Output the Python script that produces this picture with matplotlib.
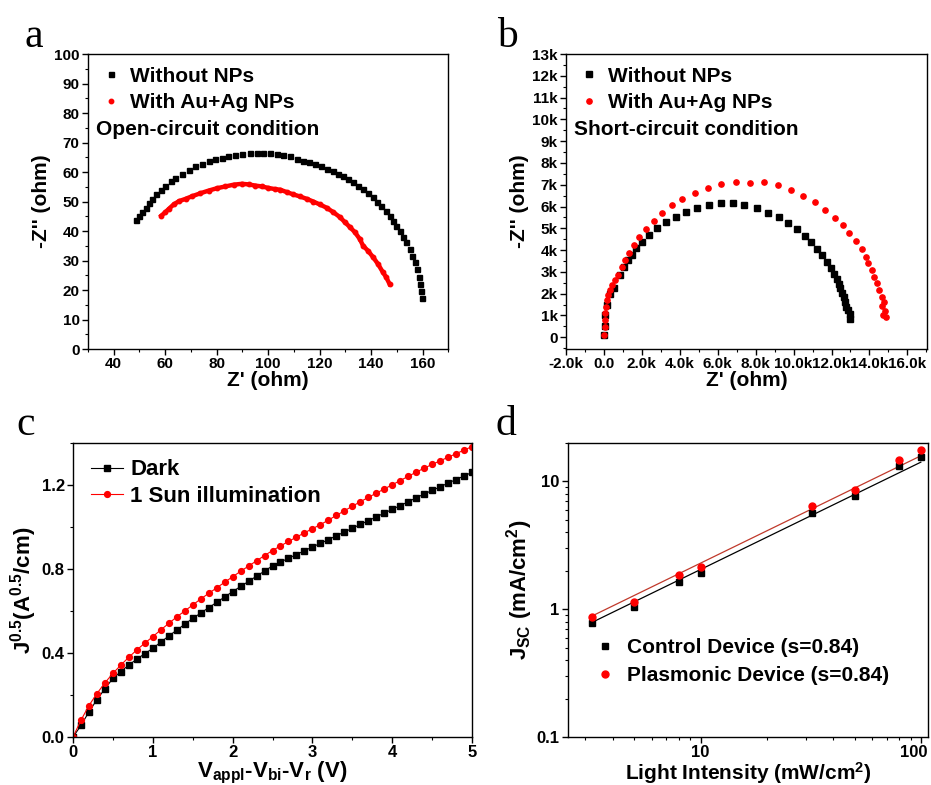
import matplotlib
matplotlib.use('Agg')
import matplotlib.pyplot as plt
import matplotlib.transforms as mtransforms
import numpy as np
from matplotlib.ticker import MultipleLocator, FuncFormatter, LogLocator, NullFormatter, FixedLocator

plt.rcParams['font.family'] = ['Liberation Sans', 'DejaVu Sans']
plt.rcParams['font.weight'] = 'bold'
plt.rcParams['axes.labelweight'] = 'bold'
plt.rcParams['mathtext.fontset'] = 'custom'
plt.rcParams['mathtext.rm'] = 'Liberation Sans:bold'
plt.rcParams['mathtext.it'] = 'Liberation Sans:bold'
plt.rcParams['mathtext.bf'] = 'Liberation Sans:bold'
plt.rcParams['axes.linewidth'] = 1.0

# ---------------- Panel a data (ohm) ----------------
a_black_x = [48.5, 49.8, 51.1, 52.4, 53.7, 55.0, 56.5, 58.2, 59.9, 62.1, 64.0, 66.6, 69.2, 71.7,
             74.3, 76.9, 79.5, 82.1, 84.6, 87.2, 89.8, 93.0, 95.6, 98.2, 100.8, 103.4, 105.9,
             108.5, 111.1, 113.4, 116.0, 118.2, 120.4, 122.7, 125.1, 127.2, 129.2, 131.1, 133.0,
             135.0, 136.9, 138.8, 140.8, 142.3, 144.0, 145.7, 147.2, 148.5, 149.8, 151.1, 152.4,
             153.7, 155.0, 156.0, 156.9, 157.8, 158.6, 159.1, 159.5, 159.8]
a_black_y = [43.8, 45.2, 46.6, 47.8, 49.4, 50.9, 52.4, 54.0, 55.3, 56.8, 57.9, 59.4, 60.8, 61.9,
             62.8, 63.6, 64.3, 64.9, 65.4, 65.9, 66.2, 66.4, 66.3, 66.4, 66.3, 66.1, 65.9,
             65.3, 64.5, 63.9, 63.4, 62.8, 62.1, 61.1, 60.3, 59.4, 58.5, 57.6, 56.6,
             55.4, 54.3, 52.8, 51.5, 50.0, 48.6, 46.9, 45.2, 43.5, 41.8, 40.1, 38.1,
             36.2, 33.9, 31.6, 29.4, 27.1, 24.3, 22.0, 19.7, 17.4]
a_red_x = [58.5, 60.1, 61.4, 63.3, 65.3, 67.9, 70.5, 73.7, 76.9, 80.1, 83.4, 86.6, 89.8, 92.4,
           95.0, 97.6, 100.1, 102.7, 104.7, 107.2, 109.8, 112.4, 115.0, 117.5, 120.1, 122.7,
           125.3, 127.9, 129.8, 131.8, 133.7, 135.6, 136.9, 138.8, 140.8, 142.7, 144.6, 145.9, 147.2]
a_red_y = [45.2, 46.4, 47.5, 49.0, 50.1, 50.9, 51.8, 52.8, 53.7, 54.5, 55.1, 55.7, 56.0, 55.8,
           55.4, 55.1, 54.6, 54.2, 54.0, 53.2, 52.4, 51.7, 50.9, 50.0, 49.0, 47.9,
           46.4, 44.7, 43.0, 41.3, 39.6, 37.3, 35.0, 33.3, 31.1, 28.8, 26.0, 24.3, 22.0]

# ---------------- Panel b data (kOhm) ----------------
b_black_x = [0.0, 0.03, 0.08, 0.15, 0.3, 0.52, 0.82, 1.05, 1.28, 1.46, 1.70, 2.02, 2.37, 2.81, 3.25,
             3.78, 4.35, 4.93, 5.55, 6.16, 6.81, 7.40, 8.09, 8.67, 9.25, 9.73, 10.17, 10.61,
             10.91, 11.23, 11.49, 11.76, 11.97, 12.11, 12.29, 12.37, 12.46, 12.55, 12.64,
             12.73, 12.78, 12.85, 12.96, 12.96]
b_black_y = [0.1, 0.5, 1.0, 1.5, 2.0, 2.25, 2.86, 3.24, 3.55, 3.78, 4.09, 4.39, 4.70, 5.01, 5.31,
             5.54, 5.77, 5.95, 6.09, 6.15, 6.15, 6.05, 5.92, 5.72, 5.54, 5.26, 4.99, 4.65,
             4.39, 4.06, 3.78, 3.44, 3.17, 2.91, 2.66, 2.45, 2.25, 2.05, 1.86,
             1.64, 1.41, 1.25, 1.07, 0.83]
b_red_x = [-0.01, 0.03, 0.04, 0.08, 0.12, 0.17, 0.22, 0.31, 0.43, 0.57, 0.73, 0.93, 1.10, 1.31,
           1.58, 1.84, 2.20, 2.64, 3.08, 3.61, 4.14, 4.79, 5.48, 6.18, 6.96, 7.70, 8.44, 9.16,
           9.87, 10.52, 11.14, 11.68, 12.20, 12.60, 12.90, 13.29, 13.61, 13.82, 13.93, 14.14,
           14.22, 14.40, 14.49, 14.67, 14.75, 14.67, 14.81, 14.72, 14.88]
b_red_y = [0.11, 0.49, 0.79, 1.10, 1.41, 1.71, 1.94, 2.17, 2.40, 2.63, 2.86, 3.24, 3.55, 3.86,
           4.24, 4.59, 4.96, 5.34, 5.72, 6.05, 6.35, 6.63, 6.84, 7.03, 7.12, 7.10, 7.13, 7.00,
           6.77, 6.49, 6.20, 5.86, 5.48, 5.14, 4.80, 4.42, 4.04, 3.70, 3.40, 3.09,
           2.78, 2.48, 2.17, 1.87, 1.64, 1.44, 1.22, 1.02, 0.95]

# ---------------- Panel c data ----------------
c_v = [0.0, 0.1, 0.2, 0.3, 0.4, 0.5, 0.6, 0.7, 0.8, 0.9, 1.0, 1.1, 1.2, 1.3, 1.4, 1.5, 1.6, 1.7,
       1.8, 1.9, 2.0, 2.1, 2.2, 2.3, 2.4, 2.5, 2.6, 2.7, 2.8, 2.9, 3.0, 3.1, 3.2, 3.3, 3.4, 3.5,
       3.6, 3.7, 3.8, 3.9, 4.0, 4.1, 4.2, 4.3, 4.4, 4.5, 4.6, 4.7, 4.8, 4.9, 5.0]
c_dark = [0.0, 0.055, 0.12, 0.178, 0.23, 0.279, 0.312, 0.343, 0.371, 0.397, 0.422, 0.452, 0.481,
          0.509, 0.537, 0.565, 0.59, 0.616, 0.641, 0.667, 0.692, 0.717, 0.741, 0.766, 0.79,
          0.815, 0.833, 0.851, 0.869, 0.887, 0.905, 0.922, 0.94, 0.958, 0.976, 0.994, 1.012,
          1.03, 1.048, 1.066, 1.084, 1.102, 1.12, 1.139, 1.157, 1.174, 1.191, 1.209, 1.226,
          1.243, 1.26]
c_sun = [0.0, 0.08, 0.15, 0.207, 0.258, 0.303, 0.343, 0.38, 0.415, 0.447, 0.478, 0.51, 0.541,
         0.572, 0.60, 0.629, 0.657, 0.684, 0.71, 0.737, 0.763, 0.789, 0.814, 0.839, 0.864,
         0.888, 0.91, 0.931, 0.952, 0.972, 0.992, 1.011, 1.033, 1.055, 1.077, 1.099, 1.12,
         1.141, 1.161, 1.181, 1.201, 1.221, 1.241, 1.261, 1.28, 1.298, 1.315, 1.332, 1.349,
         1.366, 1.383]

# ---------------- Panel d data ----------------
d_intensity = [3.2, 5.0, 8.0, 10.0, 32.0, 50.0, 80.0, 100.0]
d_control = [0.78, 1.04, 1.63, 1.91, 5.67, 7.66, 13.1, 15.5]
d_plasmonic = [0.865, 1.13, 1.84, 2.15, 6.47, 8.6, 14.8, 17.5]
d_slope = 0.84

RED = '#ff0000'

fig = plt.figure(figsize=(9.31, 7.85), dpi=100)

def style(ax, ls):
    ax.tick_params(which='both', direction='out', top=False, right=False, labelsize=ls, pad=2)
    ax.tick_params(which='major', length=4, width=1)
    ax.tick_params(which='minor', length=2.5, width=0.8)
    for lab in ax.get_xticklabels() + ax.get_yticklabels():
        lab.set_fontweight('bold')

LEG_AB = dict(loc='upper left', bbox_to_anchor=(0.0, 1.0), frameon=False, fontsize=15,
              handlelength=1.0, handletextpad=0.4, labelspacing=0.38, borderaxespad=0.2)

# ---- a ----
axA = fig.add_axes([0.0945, 0.5554, 0.387, 0.3758])
axA.plot(a_black_x, a_black_y, 's', color='black', ms=3.6, mec='black', label='Without NPs')
axA.plot(a_red_x, a_red_y, '-', color=RED, lw=3.2)
axA.plot(a_red_x, a_red_y, 'o', color=RED, ms=3.2, label='With Au+Ag NPs')
axA.set_xlim(30, 170)
axA.set_ylim(0, 100)
axA.xaxis.set_major_locator(MultipleLocator(20))
axA.xaxis.set_major_formatter(FuncFormatter(lambda v, p: '%d' % v if v >= 40 else ''))
axA.xaxis.set_minor_locator(MultipleLocator(10))
axA.yaxis.set_major_locator(MultipleLocator(10))
axA.yaxis.set_minor_locator(MultipleLocator(5))
axA.set_xlabel("Z' (ohm)", fontsize=15, labelpad=0)
axA.set_ylabel("-Z'' (ohm)", fontsize=15, labelpad=2)
style(axA, 11)
axA.legend(**LEG_AB)
axA.text(0.022, 0.745, 'Open-circuit condition', transform=axA.transAxes, fontsize=15,
         fontweight='bold', va='center', ha='left')

# ---- b ----
axB = fig.add_axes([0.608, 0.5554, 0.388, 0.3758])
axB.plot(np.array(b_black_x) * 1000, np.array(b_black_y) * 1000, 's', color='black', ms=3.8,
         label='Without NPs')
axB.plot(np.array(b_red_x) * 1000, np.array(b_red_y) * 1000, 'o', color=RED, ms=3.8,
         label='With Au+Ag NPs')
axB.set_xlim(-2000, 17050)
axB.set_ylim(-540, 13000)
axB.xaxis.set_major_locator(MultipleLocator(2000))
axB.xaxis.set_minor_locator(MultipleLocator(1000))
axB.yaxis.set_major_locator(MultipleLocator(1000))
axB.yaxis.set_minor_locator(MultipleLocator(500))

def fmt_bx(v, p):
    if abs(v) < 1e-6:
        return '0.0'
    return '%.1fk' % (v / 1000.0)

def fmt_by(v, p):
    if abs(v) < 1e-6:
        return '0'
    return '%dk' % round(v / 1000.0)

axB.xaxis.set_major_formatter(FuncFormatter(fmt_bx))
axB.yaxis.set_major_formatter(FuncFormatter(fmt_by))
axB.set_xlabel("Z' (ohm)", fontsize=15, labelpad=0)
axB.set_ylabel("-Z'' (ohm)", fontsize=15, labelpad=2)
style(axB, 11)
axB.legend(**LEG_AB)
axB.text(0.022, 0.745, 'Short-circuit condition', transform=axB.transAxes, fontsize=15,
         fontweight='bold', va='center', ha='left')

# ---- c ----
axC = fig.add_axes([0.0784, 0.0611, 0.4286, 0.3746])
axC.plot(c_v, c_dark, '-s', color='black', lw=0.8, ms=4.2, label='Dark')
axC.plot(c_v, c_sun, '-o', color=RED, lw=0.8, ms=4.2, label='1 Sun illumination')
axC.set_xlim(0, 5)
axC.set_ylim(0, 1.4)
axC.xaxis.set_major_locator(MultipleLocator(1))
axC.xaxis.set_minor_locator(MultipleLocator(0.5))
axC.yaxis.set_major_locator(FixedLocator([0.0, 0.4, 0.8, 1.2]))
axC.yaxis.set_major_formatter(FuncFormatter(lambda v, p: '%.1f' % v))
axC.yaxis.set_minor_locator(MultipleLocator(0.2))
axC.set_xlabel(r'V$_{appl}$-V$_{bi}$-V$_r$ (V)', fontsize=16, labelpad=0)
axC.set_ylabel(r'J$^{0.5}$(A$^{0.5}$/cm)', fontsize=16, labelpad=2)
style(axC, 12)
axC.legend(loc='upper left', bbox_to_anchor=(0.0, 1.005), frameon=False, fontsize=16,
           handlelength=1.45, handletextpad=0.32, labelspacing=0.26, borderaxespad=0.4,
           borderpad=0.4)

# ---- d ----
axD = fig.add_axes([0.610, 0.0611, 0.387, 0.3746])
axD.set_xscale('log')
axD.set_yscale('log')
lx = np.log10(d_intensity)
xfit = np.array([min(d_intensity), max(d_intensity)])
for yvals, col in ((d_control, 'black'), (d_plasmonic, '#c0392b')):
    icpt = np.mean(np.log10(yvals) - d_slope * lx)
    axD.plot(xfit, 10 ** (icpt + d_slope * np.log10(xfit)), '-', color=col, lw=0.9)
axD.plot(d_intensity, d_control, 's', color='black', ms=5, label='Control Device (s=0.84)')
axD.plot(d_intensity, d_plasmonic, 'o', color=RED, ms=5, label='Plasmonic Device (s=0.84)')
axD.set_xlim(2.5, 108)
axD.set_ylim(0.1, 20)
axD.xaxis.set_major_locator(FixedLocator([10, 100]))
axD.xaxis.set_major_formatter(FuncFormatter(lambda v, p: '%d' % v))
axD.xaxis.set_minor_locator(LogLocator(base=10, subs=np.arange(2, 10)))
axD.xaxis.set_minor_formatter(NullFormatter())
axD.yaxis.set_major_locator(FixedLocator([0.1, 1, 10]))
axD.yaxis.set_major_formatter(FuncFormatter(lambda v, p: ('%g' % v)))
axD.yaxis.set_minor_locator(LogLocator(base=10, subs=np.arange(2, 10)))
axD.yaxis.set_minor_formatter(NullFormatter())
axD.set_xlabel(r'Light Intensity (mW/cm$^2$)', fontsize=15, labelpad=0)
axD.set_ylabel(r'J$_{SC}$ (mA/cm$^2$)', fontsize=16, labelpad=1)
style(axD, 12)
# keep the last x tick label ("100") inside the figure edge
fig.canvas.draw()
_xl = axD.xaxis.get_majorticklabels()
if len(_xl) > 1:
    _xl[-1].set_transform(_xl[-1].get_transform() +
                          mtransforms.ScaledTranslation(-7 / 100.0, 0, fig.dpi_scale_trans))
axD.legend(loc='upper left', bbox_to_anchor=(0.074, 0.337), frameon=False, fontsize=15,
           handlelength=1.0, handletextpad=0.56, labelspacing=0.45, borderaxespad=0.0,
           borderpad=0.0)

# panel letters
for (xf, yf, t) in ((0.026, 0.940, 'a'), (0.534, 0.940, 'b'), (0.018, 0.446, 'c'), (0.532, 0.446, 'd')):
    fig.text(xf, yf, t, fontsize=30, family='Liberation Serif', fontweight='normal', va='baseline')

fig.savefig('out.png', dpi=100)
